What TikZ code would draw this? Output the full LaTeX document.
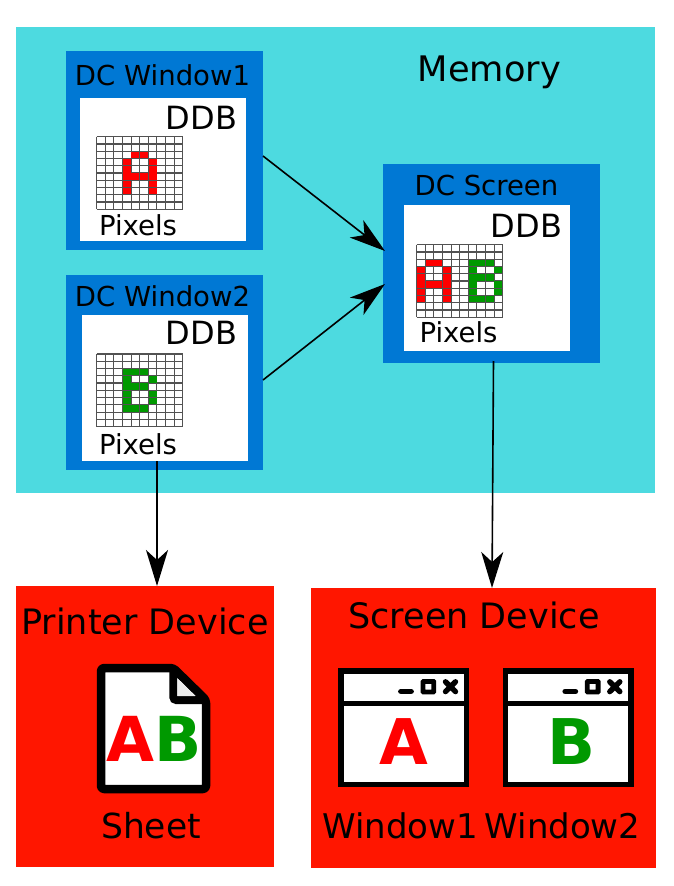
\documentclass[tikz,border=0pt]{standalone}
\usepackage{fontspec}
\setmainfont{DejaVu Sans}
\usetikzlibrary{arrows.meta}
\definecolor{memcyan}{HTML}{4DDAE0}
\definecolor{dcblue}{HTML}{0078D4}
\definecolor{devred}{HTML}{FF1600}
\definecolor{pixred}{HTML}{FF0000}
\definecolor{pixgreen}{HTML}{009900}
\tikzset{
	area/.style={inner sep=0pt, outer sep=0pt, minimum width=#1},
	txt/.style={inner sep=0pt, anchor=base, text=black, font=\fontsize{#1}{#1}\selectfont},
	link/.style={line width=1.6pt, -{Stealth[length=36pt, width=22pt, inset=10pt]}},
	icon/.style={line width=5.5pt, draw=black, fill=white},
}
% one 10x10 pixel grid, #3 is what goes on it
\newcommand{\pixgrid}[3]{
	\begin{scope}[shift={(#1,#2)}, x=8.6pt, y=-7.26pt]
		\foreach \i in {0,...,10}{
			\draw[line width=1.1pt, black!68] (\i,0) -- (\i,10);
			\draw[line width=1.1pt, black!68] (0,\i) -- (10,\i);
		}
		#3
	\end{scope}
}
\newcommand{\pixA}[2]{
	\foreach \c/\r in {1/0,2/0,0/1,3/1,0/2,3/2,0/3,1/3,2/3,3/3,0/4,3/4,0/5,3/5}{
		\fill[pixred] (\c+#1+.04,\r+#2+.05) rectangle ++(.92,.9);
	}
}
\newcommand{\pixB}[2]{
	\foreach \c/\r in {0/0,1/0,2/0,0/1,3/1,0/2,1/2,2/2,0/3,3/3,0/4,3/4,0/5,1/5,2/5}{
		\fill[pixgreen] (\c+#1+.04,\r+#2+.05) rectangle ++(.92,.9);
	}
}
\begin{document}
\begin{tikzpicture}[x=1pt, y=-1pt]
	\useasboundingbox (0,0) rectangle (674,886);

	% boxes
	\node[area=639pt, minimum height=466pt, fill=memcyan] (memory) at (335.5,260) {};
	\node[area=197pt, minimum height=199pt, fill=dcblue] (dcwin1) at (164.5,150.5) {};
	\node[area=166pt, minimum height=143pt, fill=white] (ddbwin1) at (163,169.5) {};
	\node[area=197pt, minimum height=195pt, fill=dcblue] (dcwin2) at (164.5,372.5) {};
	\node[area=166pt, minimum height=146pt, fill=white] (ddbwin2) at (165,388) {};
	\node[area=217pt, minimum height=199pt, fill=dcblue] (dcscreen) at (491.5,263.5) {};
	\node[area=166pt, minimum height=146.5pt, fill=white] (ddbscreen) at (487,277.75) {};
	\node[area=258pt, minimum height=281pt, fill=devred] (printer) at (145,726.5) {};
	\node[area=345pt, minimum height=280pt, fill=devred] (screen) at (483.5,728) {};

	% pixels
	\pixgrid{96.7}{136.7}{\pixA{3}{2}}
	\pixgrid{96.7}{354}{\pixB{3}{2}}
	\pixgrid{416.7}{244.7}{\pixA{0}{2}\pixB{6}{2}}

	% texts in memory
	\node[txt=35.2pt] (memlabel) at (489.5,81) {Memory};
	\node[txt=27.5pt] (titlewin1) at (162.5,85.5) {DC Window1};
	\node[txt=27.5pt] (titlewin2) at (162.5,306) {DC Window2};
	\node[txt=27.5pt] (titlescreen) at (486.5,195) {DC Screen};
	\foreach \n/\x/\y/\xx/\yy in {win1/201.5/129/138/235,win2/201.5/344/138/454,screen/526.5/237/458.5/342}{
		\node[txt=32pt] (ddb\n label) at (\x,\y) {DDB};
		\node[txt=27.5pt] (pix\n label) at (\xx,\yy) {Pixels};
	}

	% arrows
	\coordinate (in1) at (385,251);
	\coordinate (in2) at (385,284);
	\draw[link] ([yshift=-5.5pt]dcwin1.east) -- (in1);
	\draw[link] ([yshift=-7.5pt]dcwin2.east) -- (in2);
	\draw[link] ([xshift=-8pt]ddbwin2.south) -- ([xshift=12pt]printer.north);
	\draw[link] ([xshift=2pt,yshift=2pt]dcscreen.south) -- ([xshift=8.5pt]screen.north);

	% device texts
	\node[txt=35pt] (printerlabel) at (145,634) {Printer Device};
	\node[txt=35pt] (screenlabel) at (474,628) {Screen Device};
	\node[txt=34.5pt] (sheetlabel) at (151,838) {Sheet};
	\node[txt=34pt] (win1label) at (400,838) {Window1};
	\node[txt=34pt] (win2label) at (562.5,838) {Window2};

	% sheet icon
	\draw[line width=8.5pt, draw=black, fill=white, rounded corners=3pt, line join=round] (101,668) -- (173.3,668) -- (206,700) -- (206,789) -- (101,789) -- cycle;
	\draw[line width=8pt, black, rounded corners=3pt] (173.3,668) -- (173.3,700) -- (206,700);
	\fill[white!93!black] (177.3,678.3) -- (195,696) -- (177.3,696) -- cycle;
	\node[txt=62pt] (sheetab) at (154.5,761) {\bfseries\textcolor{pixred}{A}\textcolor{pixgreen}{B}};

	% window icons
	\foreach \i/\l/\c/\lx in {0/A/pixred/404,164.3/B/pixgreen/407.7}{
		\begin{scope}[xshift=\i pt]
			\draw[icon] (341,671) rectangle (466.6,784.6);
			\draw[icon] (341,703.3) -- (466.6,703.3);
			\draw[line width=5.8pt, line cap=round] (401,691.4) -- (411,691.4);
			\draw[line width=4.8pt, rounded corners=.5pt] (423,681.4) rectangle (433.8,692);
			\draw[line width=5.4pt, line cap=round] (445.5,681.8) -- (455.5,691.6) (455.5,681.8) -- (445.5,691.6);
			\node[txt=63pt, text=\c] (letter\l) at (\lx,764) {\bfseries\l};
		\end{scope}
	}
\end{tikzpicture}
\end{document}
